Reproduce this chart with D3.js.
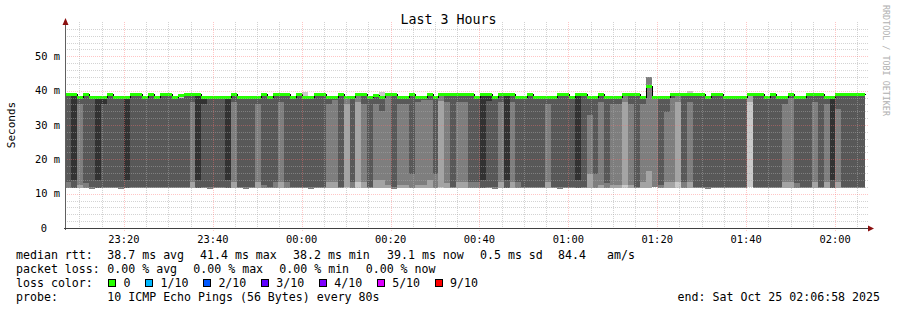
<!DOCTYPE html>
<html>
<head>
<meta charset="utf-8">
<script src="https://d3js.org/d3.v7.min.js"></script>
<style>
  body { margin: 0; background: #fff; }
  svg text { font-family: "DejaVu Sans Mono", monospace; fill: #000; }
</style>
</head>
<body>
<div id="chart"></div>
<script>
    // smokeping "Last 3 Hours", one column per 80s step, rtt in ms
    var median = [39.0,39.0,38.3,39.0,38.3,38.3,38.3,39.0,38.3,38.3,
        38.3,39.0,39.0,38.3,39.0,38.3,39.0,39.0,38.3,38.6,
        39.0,39.0,39.0,38.3,38.3,38.3,38.3,38.3,39.0,38.3,
        38.3,38.3,38.3,39.0,38.3,39.0,39.0,39.0,38.3,39.0,
        38.3,38.3,39.0,39.0,38.3,38.3,39.0,38.3,38.3,39.0,
        39.0,38.3,38.8,38.3,39.0,39.0,38.3,38.3,39.0,38.3,
        38.3,39.0,38.3,39.0,39.0,39.0,39.0,39.0,39.0,38.3,
        39.0,39.0,38.3,39.0,39.0,39.0,38.3,38.3,39.0,38.3,
        38.3,38.3,38.3,39.0,39.0,38.3,39.0,39.0,38.3,38.3,
        39.0,38.3,38.3,38.3,39.0,39.0,39.0,38.3,41.4,38.3,
        38.3,38.3,39.0,39.0,39.0,39.0,39.0,39.0,38.3,39.0,
        39.0,38.3,38.3,38.3,38.3,39.0,39.0,39.0,38.3,39.0,
        38.3,38.3,39.0,38.3,38.3,39.0,39.0,39.0,38.3,38.3,
        39.0,39.0,39.0,39.0,39.0];

    // how many of the 10 pings fell in the fast (~12 ms) group
    var lowCount = [4,5,3,4,4,5,4,4,4,4,
        5,4,4,4,4,4,4,4,4,4,
        4,3,5,4,4,4,4,5,3,4,
        4,4,3,4,4,4,3,4,4,4,
        4,4,4,4,3,3,4,2,4,2,
        3,4,3,3,3,4,3,3,4,3,
        3,3,4,2,3,4,3,3,4,4,
        5,4,4,3,5,3,4,4,4,4,
        4,3,4,4,4,4,5,4,3,4,
        3,4,3,3,2,3,4,3,3,3,
        4,3,3,2,4,3,4,4,4,4,
        4,4,4,4,4,1,4,4,4,4,
        4,3,3,4,4,4,3,4,3,5,
        3,4,4,4,4];

    var minRtt = [11.6,11.6,11.6,11.6,11.5,11.6,11.6,11.6,11.6,11.5,
        11.6,11.6,11.6,11.7,11.6,11.6,11.6,11.6,11.6,11.6,
        11.6,11.6,11.6,11.6,11.5,11.6,11.6,11.6,11.6,11.6,
        11.5,11.6,11.6,11.6,11.6,11.6,11.6,11.6,11.6,11.6,
        11.6,11.5,11.6,11.6,11.6,11.6,11.6,11.7,11.6,11.6,
        11.6,11.6,11.6,11.6,11.6,11.5,11.6,11.6,11.6,11.6,
        11.6,11.6,11.6,11.6,11.6,11.6,11.6,11.6,11.6,11.6,
        11.6,11.6,11.5,11.6,11.6,11.6,11.6,11.6,11.6,11.6,
        11.6,11.6,11.6,11.5,11.6,11.6,11.6,11.6,11.6,11.6,
        11.6,11.6,11.6,11.6,11.6,11.6,11.6,11.6,11.6,11.8,
        11.6,11.6,11.6,11.6,11.6,11.6,11.6,11.6,11.5,11.6,
        11.6,11.6,11.6,11.6,11.6,11.6,11.6,11.6,11.6,11.6,
        11.6,11.6,11.6,11.6,11.6,11.6,11.6,11.6,11.6,11.6,
        11.6,11.6,11.6,11.6,11.6];

    // slowest ping of the fast group
    var lowTop = [13.5,13.9,12.5,13.0,12.0,13.9,12.0,12.0,12.0,12.0,
        13.9,12.0,12.0,12.0,12.0,12.0,12.0,12.0,12.0,12.0,
        12.0,13.5,13.9,12.0,12.0,12.0,12.0,13.9,13.5,12.0,
        12.0,12.0,13.5,12.5,12.0,13.5,13.5,13.5,12.0,12.0,
        12.0,12.0,12.0,12.0,13.5,13.5,12.0,12.0,13.5,13.5,
        13.5,12.0,14.0,14.0,12.5,12.0,12.5,12.5,15.8,12.5,
        12.5,14.0,15.8,12.0,13.0,12.0,13.5,13.5,13.5,13.5,
        13.9,12.0,12.0,13.5,13.9,13.5,13.5,12.0,12.0,12.0,
        12.0,13.5,12.0,12.0,12.0,12.0,13.9,12.0,15.8,15.8,
        12.5,13.0,12.5,12.5,12.5,12.5,12.0,13.5,16.5,12.0,
        12.5,13.5,13.5,13.5,13.5,13.5,12.0,12.0,12.0,12.0,
        12.0,12.0,12.0,12.0,12.0,11.8,12.0,12.0,12.0,12.0,
        12.0,13.5,13.5,13.0,12.0,12.0,13.5,12.0,13.5,13.9,
        13.5,12.0,12.0,12.0,12.0];

    // fastest ping of the slow group
    var highRtt = [38.4,38.4,36.2,38.4,37.7,37.7,36.2,38.4,37.7,37.7,
        37.7,38.4,38.4,37.7,38.4,37.7,38.4,38.4,37.7,38.0,
        38.4,36.7,38.4,36.2,37.7,37.7,37.7,37.7,36.7,37.7,
        37.7,37.7,36.2,38.4,37.7,38.4,36.7,38.4,37.7,38.4,
        37.7,37.7,38.4,38.4,36.2,37.2,38.4,36.2,37.7,36.7,
        36.2,37.7,36.2,34.0,38.4,38.4,36.2,36.2,38.4,36.7,
        37.2,37.2,37.7,37.0,36.7,38.4,36.7,36.7,38.4,37.7,
        38.4,37.0,37.7,36.7,38.4,36.7,37.7,37.7,38.4,37.7,
        37.7,36.2,37.7,38.4,38.4,37.7,38.4,38.4,32.9,37.7,
        36.7,37.7,36.2,36.2,36.7,36.2,38.4,36.2,44.0,37.7,
        37.7,33.8,38.0,36.7,38.4,36.7,38.4,38.4,37.7,38.4,
        38.4,37.7,37.7,37.7,37.7,36.7,38.4,38.4,37.7,38.4,
        37.7,36.2,38.0,37.7,37.7,38.4,36.7,38.4,36.2,37.7,
        34.8,38.4,38.4,38.4,38.4];

    // level of the rest of the slow group
    var topRtt = [38.4,38.4,37.7,38.4,37.7,37.7,37.7,38.4,37.7,37.7,
        37.7,38.4,38.4,37.7,38.4,37.7,38.4,38.4,37.7,38.0,
        38.4,38.4,38.4,37.7,37.7,37.7,37.7,37.7,38.4,37.7,
        37.7,37.7,37.7,38.4,37.7,38.4,38.4,38.4,37.7,38.4,
        37.7,37.7,38.4,38.4,37.7,37.7,38.4,37.7,37.7,38.4,
        38.4,37.7,38.2,37.7,38.4,38.4,37.7,37.7,38.4,37.7,
        37.7,38.4,37.7,38.4,38.4,38.4,38.4,38.4,38.4,37.7,
        38.4,38.4,37.7,38.4,38.4,38.4,37.7,37.7,38.4,37.7,
        37.7,37.7,37.7,38.4,38.4,37.7,38.4,38.4,37.7,37.7,
        38.4,37.7,37.7,37.7,38.4,38.4,38.4,37.7,44.0,37.7,
        37.7,37.7,38.4,38.4,38.4,38.4,38.4,38.4,37.7,38.4,
        38.4,37.7,37.7,37.7,37.7,38.4,38.4,38.4,37.7,38.4,
        37.7,37.7,38.4,37.7,37.7,38.4,38.4,38.4,37.7,37.7,
        38.4,38.4,38.4,38.4,38.4];

    var maxRtt = [39.2,39.2,38.5,39.2,38.5,38.5,38.5,39.2,38.5,38.5,
        38.5,39.2,39.2,38.5,39.2,38.5,39.2,39.2,38.5,38.8,
        39.2,39.2,39.2,38.5,38.5,38.5,38.5,38.5,39.2,38.5,
        38.5,38.5,38.5,39.2,38.5,39.2,39.2,39.2,38.5,39.2,
        39.6,38.5,39.2,39.2,38.5,38.5,39.2,38.5,38.5,39.2,
        39.2,38.5,39.0,39.6,39.2,39.2,38.5,38.5,39.2,38.5,
        38.5,39.2,38.5,39.2,39.2,39.2,39.2,39.2,39.2,38.5,
        39.2,39.2,38.5,39.2,39.2,39.2,38.5,38.5,39.2,38.5,
        38.5,38.5,38.5,39.2,39.2,38.5,39.2,39.2,38.5,38.5,
        39.2,38.5,38.5,38.5,39.2,39.2,39.2,38.5,44.0,38.5,
        38.5,38.5,39.2,39.2,39.2,39.8,39.2,39.2,38.5,39.2,
        39.2,38.5,38.5,38.5,38.5,39.2,39.2,39.2,38.5,39.2,
        38.5,38.5,39.2,38.5,38.5,39.2,39.2,39.2,38.5,38.5,
        39.2,39.2,39.2,39.2,39.2];

    var xTickLabels = ["23:20", "23:40", "00:00", "00:20", "00:40", "01:00", "01:20", "01:40", "02:00"];
    var yTicks = [0, 10, 20, 30, 40, 50];
    var yTickLabels = ["0", "10 m", "20 m", "30 m", "40 m", "50 m"];

    var lossLabels = ["0", "1/10", "2/10", "3/10", "4/10", "5/10", "9/10"];
    var lossColors = ["#26ff00", "#00b8ff", "#0059ff", "#5e00ff", "#7e00ff", "#dd00ff", "#ff0000"];
    var smokeColors = ["#cacaca", "#a4a4a4", "#7e7e7e", "#585858", "#323232"];

    // legend rows: [text, x]
    var legendRtt = [["median rtt:", 16], ["38.7 ms avg", 107.3], ["41.4 ms max", 200], ["38.2 ms min", 293],
        ["39.1 ms now", 387], ["0.5 ms sd", 480], ["84.4", 558], ["am/s", 607]];
    var legendLoss = [["packet loss:", 16], ["0.00 % avg", 107.3], ["0.00 % max", 193.3],
        ["0.00 % min", 279.3], ["0.00 % now", 365.7]];
    var legendProbe = [["probe:", 16], ["10 ICMP Echo Pings (56 Bytes) every 80s", 107.3]];
    var endText = "end: Sat Oct 25 02:06:58 2025";

    var stepSec = 80;
    var firstStep = Date.UTC(2025, 9, 24, 23, 6, 46);
    var start = new Date(Date.UTC(2025, 9, 24, 23, 6, 58));
    var end = new Date(Date.UTC(2025, 9, 25, 2, 6, 58));

    var W = 897, H = 310;
    var pLeft = 66, pRight = 866, pTop = 22, pBottom = 228;

    var x = d3.scaleUtc().domain([start, end]).range([pLeft, pRight]);
    var y = d3.scaleLinear().domain([0, 60]).range([pBottom, pTop]);

    // build the 10 sorted pings for each step
    var cols = median.map(function (m, i) {
        var k = lowCount[i], p = [];
        for (var j = 1; j <= 10; j++) {
            if (j < k) p.push(minRtt[i]);
            else if (j == k) p.push(lowTop[i]);
            else if (j == k + 1) p.push(highRtt[i]);
            else if (j < 10) p.push(topRtt[i]);
            else p.push(maxRtt[i]);
        }
        return {
            t0: new Date(firstStep + i * stepSec * 1000),
            t1: new Date(firstStep + (i + 1) * stepSec * 1000),
            pings: p,
            median: m
        };
    });

    var svg = d3.select("#chart").append("svg")
        .attr("width", W)
        .attr("height", H);

    svg.append("rect").attr("width", W).attr("height", H).attr("fill", "#fff");

    svg.append("clipPath").attr("id", "plot")
        .append("rect")
        .attr("x", pLeft).attr("y", pTop)
        .attr("width", pRight - pLeft).attr("height", pBottom - pTop);

    var plot = svg.append("g").attr("clip-path", "url(#plot)");

    // smoke: band i spans ping i .. ping (11-i)
    smokeColors.forEach(function (c, b) {
        plot.append("g")
            .attr("shape-rendering", "crispEdges")
            .selectAll("rect")
            .data(cols)
            .enter().append("rect")
            .attr("x", function (d) { return Math.round(x(d.t0)); })
            .attr("width", function (d) { return Math.round(x(d.t1)) - Math.round(x(d.t0)); })
            .attr("y", function (d) { return Math.round(y(d.pings[9 - b])); })
            .attr("height", function (d) {
                return Math.max(0, Math.round(y(d.pings[b])) - Math.round(y(d.pings[9 - b])));
            })
            .attr("fill", c);
    });

    // median: black step line under a green band
    var stepPts = cols.map(function (d) { return [d.t0, d.median]; });
    stepPts.push([cols[cols.length - 1].t1, cols[cols.length - 1].median]);
    plot.append("path")
        .datum(stepPts)
        .attr("fill", "none")
        .attr("stroke", "#000")
        .attr("stroke-width", 1)
        .attr("shape-rendering", "crispEdges")
        .attr("d", d3.line()
            .x(function (d) { return Math.round(x(d[0])) + 0.5; })
            .y(function (d) { return Math.round(y(d[1])) + 0.5; })
            .curve(d3.curveStepAfter));

    plot.append("g")
        .attr("shape-rendering", "crispEdges")
        .selectAll("rect")
        .data(cols)
        .enter().append("rect")
        .attr("x", function (d) { return Math.round(x(d.t0)); })
        .attr("width", function (d) { return Math.round(x(d.t1)) - Math.round(x(d.t0)); })
        .attr("y", function (d) { return Math.round(y(d.median)) - 1; })
        .attr("height", 3)
        .attr("fill", lossColors[0]);

    // grid on top of the smoke
    var grid = svg.append("g").attr("shape-rendering", "crispEdges");
    var minorY = d3.range(2, 60, 2).filter(function (v) { return v % 10 != 0; });
    grid.selectAll(".gy").data(minorY).enter().append("line")
        .attr("x1", pLeft - 1).attr("x2", pRight + 2)
        .attr("y1", function (d) { return Math.round(y(d)) + 0.5; })
        .attr("y2", function (d) { return Math.round(y(d)) + 0.5; })
        .attr("stroke", "#a8a8a8").attr("stroke-opacity", 0.5)
        .attr("stroke-dasharray", "1,1");
    var minorX = d3.utcMinute.every(5).range(start, end).filter(function (t) { return t.getUTCMinutes() % 20 != 0; });
    grid.selectAll(".gx").data(minorX).enter().append("line")
        .attr("y1", pTop).attr("y2", pBottom + 2)
        .attr("x1", function (d) { return Math.round(x(d)) + 0.5; })
        .attr("x2", function (d) { return Math.round(x(d)) + 0.5; })
        .attr("stroke", "#a8a8a8").attr("stroke-opacity", 0.5)
        .attr("stroke-dasharray", "1,1");
    grid.selectAll(".my").data(yTicks.slice(1)).enter().append("line")
        .attr("x1", pLeft - 1).attr("x2", pRight + 2)
        .attr("y1", function (d) { return Math.round(y(d)) + 0.5; })
        .attr("y2", function (d) { return Math.round(y(d)) + 0.5; })
        .attr("stroke", "#ff7070").attr("stroke-opacity", 0.4)
        .attr("stroke-dasharray", "1,1");
    var majorX = d3.utcMinute.every(20).range(start, end);
    grid.selectAll(".mx").data(majorX).enter().append("line")
        .attr("y1", pTop).attr("y2", pBottom + 3)
        .attr("x1", function (d) { return Math.round(x(d)) + 0.5; })
        .attr("x2", function (d) { return Math.round(x(d)) + 0.5; })
        .attr("stroke", "#ff7070").attr("stroke-opacity", 0.4)
        .attr("stroke-dasharray", "1,1");

    // axes with arrows
    var ax = svg.append("g").attr("shape-rendering", "crispEdges");
    ax.append("line").attr("x1", pLeft - 0.5).attr("x2", pLeft - 0.5)
        .attr("y1", pBottom + 2).attr("y2", pTop - 2).attr("stroke", "#606060");
    ax.append("line").attr("x1", pLeft - 2).attr("x2", pRight + 3)
        .attr("y1", pBottom + 0.5).attr("y2", pBottom + 0.5).attr("stroke", "#404040");
    svg.append("path").attr("fill", "#8b1010")
        .attr("d", "M" + (pLeft - 3.5) + "," + (pTop + 3) + "L" + (pLeft + 2.5) + "," + (pTop + 3) + "L" + (pLeft - 0.5) + "," + (pTop - 4) + "Z");
    svg.append("path").attr("fill", "#8b1010")
        .attr("d", "M" + (pRight + 2) + "," + (pBottom - 2.5) + "L" + (pRight + 2) + "," + (pBottom + 3.5) + "L" + (pRight + 8) + "," + (pBottom + 0.5) + "Z");

    // tick labels
    var xTicks = xTickLabels.map(function (s) {
        var hh = +s.slice(0, 2), mm = +s.slice(3);
        return new Date(Date.UTC(2025, 9, hh >= 12 ? 24 : 25, hh, mm, 0));
    });
    svg.selectAll(".xl").data(xTicks).enter().append("text")
        .attr("x", function (d) { return x(d); })
        .attr("y", 243)
        .attr("text-anchor", "middle")
        .style("font-size", "10.4px")
        .text(function (d, i) { return xTickLabels[i]; });

    svg.selectAll(".yl").data(yTicks).enter().append("text")
        .attr("x", function (d, i) { return yTickLabels[i].indexOf(" ") < 0 ? 47 : 60; })
        .attr("y", function (d) { return y(d); })
        .attr("dy", "0.36em")
        .attr("text-anchor", "end")
        .style("font-size", "10.4px")
        .text(function (d, i) { return yTickLabels[i]; });

    svg.append("text")
        .attr("transform", "translate(15," + ((pTop + pBottom) / 2) + ") rotate(-90)")
        .attr("text-anchor", "middle")
        .style("font-size", "11px")
        .text("Seconds");

    svg.append("text")
        .attr("x", W / 2)
        .attr("y", 24)
        .attr("text-anchor", "middle")
        .style("font-size", "13.3px")
        .text("Last 3 Hours");

    svg.append("text")
        .attr("transform", "translate(883,5) rotate(90)")
        .style("font-size", "8.4px")
        .style("fill", "#b0b0b0")
        .text("RRDTOOL / TOBI OETIKER");

    // legend
    var lineY = [258.5, 272.5, 286.5, 300.5];
    var cw = 6.98;
    [legendRtt, legendLoss, [["loss color:", 16]], legendProbe].forEach(function (row, i) {
        row.forEach(function (item) {
            svg.append("text")
                .attr("x", item[1])
                .attr("y", lineY[i])
                .style("font-size", "11.6px")
                .style("white-space", "pre")
                .text(item[0]);
        });
    });
    var lx = 108.5;
    lossLabels.forEach(function (s, i) {
        svg.append("rect")
            .attr("x", lx).attr("y", lineY[2] - 7)
            .attr("width", 7).attr("height", 7)
            .attr("fill", lossColors[i])
            .attr("stroke", "#000")
            .attr("shape-rendering", "crispEdges");
        svg.append("text")
            .attr("x", lx + 15)
            .attr("y", lineY[2])
            .style("font-size", "11.6px")
            .text(s);
        lx = lx + 15 + s.length * cw + 15;
    });
    svg.append("text")
        .attr("x", 880)
        .attr("y", lineY[3])
        .attr("text-anchor", "end")
        .style("font-size", "11.6px")
        .text(endText);
</script>
</body>
</html>
